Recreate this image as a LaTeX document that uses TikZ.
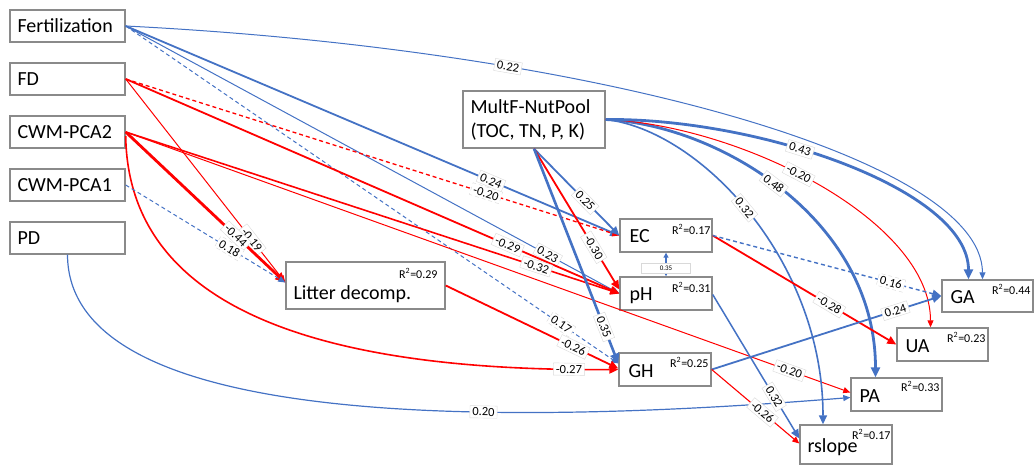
\documentclass[tikz,border=0pt]{standalone}
\usepackage{fontspec}
\setmainfont{Carlito}
\usetikzlibrary{arrows.meta}
\definecolor{eblue}{HTML}{4472C4}
\definecolor{ered}{HTML}{FF0000}
\definecolor{bgray}{HTML}{8A8A8A}
\begin{document}
\begin{tikzpicture}[x=1pt,y=1pt,
  box/.style={draw=bgray, line width=1.4pt, fill=white, rectangle, inner sep=0pt},
  btxt/.style={font=\fontsize{20}{24}\selectfont, inner sep=0pt, anchor=base west, align=left},
  rtwo/.style={font=\fontsize{12}{12}\selectfont, inner sep=0pt, anchor=north east},
  el/.style={font=\fontsize{12.5}{12.5}\selectfont, fill=white, draw=black!15, line width=0.4pt, inner xsep=2.5pt, inner ysep=2pt, sloped},
  bl/.style={draw=eblue}, rd/.style={draw=ered},
  lwa/.style={line width=1pt, -{Triangle[length=7pt,width=6pt]}},
  lwb/.style={line width=1.8pt, -{Triangle[length=9pt,width=8pt]}},
  lwc/.style={line width=2.8pt, -{Triangle[length=10pt,width=9pt]}},
  dsh/.style={dash pattern=on 4pt off 3pt}
]
\useasboundingbox (0,0) rectangle (1034,-465);

% ---------- boxes ----------
\node[box, minimum width=115, minimum height=32] (fert) at (67.5,-26) {};
\node[box, minimum width=115, minimum height=32] (fd) at (67.5,-79) {};
\node[box, minimum width=115, minimum height=32] (pca2) at (67.5,-132) {};
\node[box, minimum width=115, minimum height=32] (pca1) at (67.5,-185) {};
\node[box, minimum width=115, minimum height=32] (pd) at (67.5,-238) {};
\node[box, minimum width=142, minimum height=57] (mult) at (534,-119.5) {};
\node[box, minimum width=159, minimum height=47] (litter) at (365.5,-285.5) {};
\node[box, minimum width=92, minimum height=33] (ec) at (666,-235.5) {};
\node[box, minimum width=92, minimum height=33] (ph) at (666,-293.5) {};
\node[box, minimum width=92, minimum height=33] (gh) at (665,-369.5) {};
\node[box, minimum width=91, minimum height=32] (ga) at (987.5,-296) {};
\node[box, minimum width=91, minimum height=33] (ua) at (942.5,-344.5) {};
\node[box, minimum width=91, minimum height=33] (pa) at (896.5,-394.5) {};
\node[box, minimum width=92, minimum height=39] (rslope) at (846,-444.5) {};

% ---------- edges ----------
% Fertilization
\draw[bl,lwa] (fert.east) .. controls (600,-50) and (982,-160) .. node[el,pos=0.29]{0.22} ([xshift=-5]ga.north);
\draw[bl,lwb] (fert.east) -- node[el,pos=0.74]{0.24} (ec.west);
\draw[bl,lwa] (fert.east) -- node[el,pos=0.855]{0.23} (ph.west);
\draw[bl,lwa,dsh] (fert.east) -- node[el,pos=0.884]{0.17} ([yshift=6]gh.west);
% FD
\draw[rd,lwa] (fd.east) -- node[el,pos=0.79]{-0.19} ([yshift=3]litter.west);
\draw[rd,lwa,line width=1.3pt,dsh] (fd.east) -- node[el,pos=0.73]{-0.20} (ec.west);
\draw[rd,lwb] (fd.east) -- node[el,pos=0.774]{-0.29} (ph.west);
% CWM-PCA2
\draw[rd,lwc] (pca2.east) -- node[el,pos=0.69]{-0.44} ([yshift=3]litter.west);
\draw[rd,lwb,line width=1.6pt] (pca2.east) -- node[el,pos=0.832]{-0.32} (ph.west);
\draw[rd,lwa] (pca2.east) -- node[el,pos=0.916]{-0.20} ([yshift=2]pa.west);
\draw[rd,lwb,line width=1.6pt] ([yshift=-4]pca2.east) .. controls (128,-290) and (280,-372) .. node[el,pos=0.95]{-0.27} (gh.west);
% CWM-PCA1
\draw[bl,lwa,dsh] (pca1.east) -- node[el,pos=0.65]{0.18} ([yshift=3]litter.west);
% PD
\draw[bl,lwa,line width=1.2pt] (pd.south) .. controls (68,-420) and (450,-430) .. node[el,pos=0.68]{0.20} ([yshift=-3]pa.west);
% MultF-NutPool
\draw[bl,lwb] (mult.south) -- node[el,pos=0.6]{0.25} (ec.west);
\draw[rd,lwb] (mult.south) -- node[el,pos=0.7]{-0.30} ([yshift=4]ph.west);
\draw[bl,lwc,line width=2.6pt] (mult.south) -- node[el,pos=0.83]{0.35} ([yshift=6]gh.west);
\draw[bl,lwb,line width=1.6pt] (mult.east) .. controls (700,-130) and (823,-260) .. node[el,pos=0.48]{0.32} ([xshift=-23]rslope.north);
\draw[bl,lwc] (mult.east) .. controls (720,-125) and (875.5,-220) .. node[el,pos=0.47]{0.48} ([xshift=-21]pa.north);
\draw[rd,lwa] (mult.east) .. controls (740,-125) and (930.5,-220) .. node[el,pos=0.45]{-0.20} ([xshift=-12]ua.north);
\draw[bl,lwc] (mult.east) .. controls (760,-118) and (968.5,-190) .. node[el,pos=0.4]{0.43} ([xshift=-19]ga.north);
% EC
\draw[rd,lwb] (ec.east) -- node[el,pos=0.635]{-0.28} (ua.west);
\draw[bl,lwb,line width=1.4pt,dsh] (ec.east) -- node[el,pos=0.78]{0.16} (ga.west);
\draw[bl,line width=1.2pt,{Triangle[length=5pt,width=5pt]}-{Triangle[length=5pt,width=5pt]}] (ec.south) -- node[fill=white, draw=black!15, line width=0.4pt, minimum width=49, minimum height=10, inner sep=0pt, font=\fontsize{7}{7}\selectfont, yshift=-3.5]{0.35} (ph.north);
% pH
\draw[bl,lwb,line width=1.5pt] ([yshift=-1]ph.east) -- node[el,pos=0.71]{0.32} ([yshift=6]rslope.west);
% GH
\draw[bl,lwb] (gh.east) -- node[el,pos=0.8]{0.24} (ga.west);
\draw[rd,lwa,line width=1.1pt] (gh.east) -- node[el,pos=0.58]{-0.26} ([yshift=1]rslope.west);
% Litter
\draw[rd,lwb] (litter.east) -- node[el,pos=0.74]{-0.26} ([yshift=1]gh.west);

% ---------- box texts ----------
\node[btxt] (fert-t) at ([xshift=8,yshift=-6.5]fert.west) {Fertilization};
\node[btxt] (fd-t) at ([xshift=8,yshift=-6.5]fd.west) {FD};
\node[btxt] (pca2-t) at ([xshift=8,yshift=-6.5]pca2.west) {CWM-PCA2};
\node[btxt] (pca1-t) at ([xshift=8,yshift=-6.5]pca1.west) {CWM-PCA1};
\node[btxt] (pd-t) at ([xshift=8,yshift=-6.5]pd.west) {PD};
\node[btxt] (mult-t1) at ([xshift=8,yshift=5.5]mult.west) {MultF-NutPool};
\node[btxt] (mult-t2) at ([xshift=8,yshift=-18.5]mult.west) {(TOC, TN, P, K)};
\node[btxt] (litter-t) at ([xshift=8,yshift=-14.5]litter.west) {Litter decomp.};
\node[rtwo] (litter-r) at ([xshift=-8,yshift=-7]litter.north east) {R\textsuperscript{2}=0.29};
\node[btxt] (ec-t) at ([xshift=10,yshift=-7.5]ec.west) {EC};
\node[rtwo] (ec-r) at ([xshift=-2,yshift=-6]ec.north east) {R\textsuperscript{2}=0.17};
\node[btxt] (ph-t) at ([xshift=10,yshift=-7.5]ph.west) {pH};
\node[rtwo] (ph-r) at ([xshift=-2,yshift=-6]ph.north east) {R\textsuperscript{2}=0.31};
\node[btxt] (gh-t) at ([xshift=10,yshift=-7.5]gh.west) {GH};
\node[rtwo] (gh-r) at ([xshift=-3,yshift=-5]gh.north east) {R\textsuperscript{2}=0.25};
\node[btxt] (ga-t) at ([xshift=9,yshift=-7]ga.west) {GA};
\node[rtwo] (ga-r) at ([xshift=-3,yshift=-5]ga.north east) {R\textsuperscript{2}=0.44};
\node[btxt] (ua-t) at ([xshift=9,yshift=-7.5]ua.west) {UA};
\node[rtwo] (ua-r) at ([xshift=-3,yshift=-5]ua.north east) {R\textsuperscript{2}=0.23};
\node[btxt] (pa-t) at ([xshift=9,yshift=-7.5]pa.west) {PA};
\node[rtwo] (pa-r) at ([xshift=-3,yshift=-4]pa.north east) {R\textsuperscript{2}=0.33};
\node[btxt] (rslope-t) at ([xshift=8,yshift=-7.5]rslope.west) {rslope};
\node[rtwo] (rslope-r) at ([xshift=-2,yshift=-5]rslope.north east) {R\textsuperscript{2}=0.17};
\end{tikzpicture}
\end{document}
